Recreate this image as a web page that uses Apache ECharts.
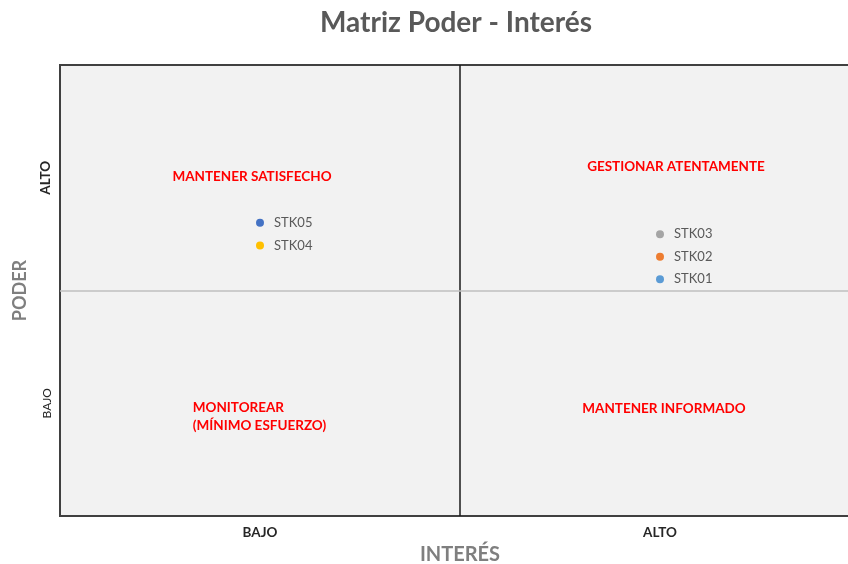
<!DOCTYPE html>
<html>
<head>
<meta charset="utf-8">
<script src="https://cdn.jsdelivr.net/npm/echarts@6/dist/echarts.min.js"></script>
<style>
  html, body { margin: 0; padding: 0; background: #fff; }
  #matriz { width: 848px; height: 564px; }
</style>
</head>
<body>
<div id="matriz"></div>
<script>
// datos de los interesados
var stakeholders = ["STK01", "STK02", "STK03", "STK04", "STK05"];
var interes = [7.5, 7.5, 7.5, 2.5, 2.5];
var poder = [5.25, 5.75, 6.25, 6.0, 6.5];
var stkColors = ["#5B9BD5", "#ED7D31", "#A5A5A5", "#FFC000", "#4472C4"];

// cuadrantes
var cuadrantes = ["MANTENER SATISFECHO", "GESTIONAR ATENTAMENTE", "MONITOREAR\n(MÍNIMO ESFUERZO)", "MANTENER INFORMADO"];
var cuadranteX = [2.4, 7.7, 1.66, 7.55];
var cuadranteY = [7.52, 7.74, 2.2, 2.39];

// etiquetas de los ejes
var nivelTicks = [2.5, 7.5];
var nivelLabels = ["BAJO", "ALTO"];

function nivel(value) {
  var i = nivelTicks.indexOf(value);
  return i >= 0 ? nivelLabels[i] : "";
}

var chart = echarts.init(document.getElementById("matriz"));
var font = "Lato, 'Open Sans', sans-serif";

var puntos = [];
for (var i = 0; i < stakeholders.length; i++) {
  puntos.push({
    name: stakeholders[i],
    value: [interes[i], poder[i]],
    itemStyle: { color: stkColors[i] }
  });
}

var textos = [];
for (var j = 0; j < cuadrantes.length; j++) {
  textos.push({
    name: cuadrantes[j],
    value: [cuadranteX[j], cuadranteY[j]],
    label: j == 2 ? { align: "left" } : {}
  });
}

var option = {
  animation: false,
  title: {
    text: "Matriz Poder - Interés",
    left: 451,
    top: 4,
    textAlign: "center",
    textStyle: { fontFamily: font, fontSize: 28, fontWeight: "bold", color: "#595959" }
  },
  grid: {
    show: true,
    left: 60,
    top: 65,
    width: 800,
    height: 451,
    outerBoundsMode: "none",
    containLabel: false,
    backgroundColor: "#F2F2F2",
    borderColor: "#404040",
    borderWidth: 2
  },
  xAxis: {
    type: "value",
    min: 0,
    max: 10,
    interval: 2.5,
    name: "INTERÉS",
    nameLocation: "middle",
    nameGap: 23,
    nameTextStyle: { fontFamily: font, fontSize: 20, fontWeight: "bold", color: "#7F7F7F" },
    axisLine: { show: false },
    axisTick: { show: false },
    splitLine: { show: false },
    axisLabel: {
      margin: 10,
      fontFamily: font,
      fontSize: 13.5,
      fontWeight: "bold",
      color: "#262626",
      formatter: nivel
    }
  },
  yAxis: {
    type: "value",
    min: 0,
    max: 10,
    interval: 2.5,
    name: "PODER",
    nameLocation: "middle",
    nameGap: 31,
    nameTextStyle: { fontFamily: font, fontSize: 18, fontWeight: "bold", color: "#7F7F7F" },
    axisLine: { show: false },
    axisTick: { show: false },
    splitLine: { show: false },
    axisLabel: {
      rotate: 90,
      margin: 7,
      fontFamily: font,
      fontSize: 12,
      color: "#262626",
      formatter: function (value) {
        var t = nivel(value);
        return t == "ALTO" ? "{b|" + t + "}" : t;
      },
      rich: { b: { fontFamily: font, fontSize: 13.5, fontWeight: "bold", color: "#262626" } }
    }
  },
  series: [
    {
      type: "scatter",
      symbolSize: 0,
      silent: true,
      data: textos,
      itemStyle: { opacity: 1 },
      label: {
        show: true,
        formatter: "{b}",
        position: "inside",
        fontFamily: font,
        fontSize: 13.5,
        fontWeight: "bold",
        color: "#FF0000",
        opacity: 1,
        lineHeight: 18
      },
      markLine: {
        silent: true,
        symbol: "none",
        label: { show: false },
        data: [
          { xAxis: 5, lineStyle: { color: "#1A1A1A", width: 1.5, type: "solid", opacity: 1 } },
          { yAxis: 5, lineStyle: { color: "#BFBFBF", width: 1.5, type: "solid", opacity: 1 } }
        ]
      }
    },
    {
      type: "scatter",
      symbolSize: 8,
      data: puntos,
      itemStyle: { opacity: 1 },
      label: {
        show: true,
        position: "right",
        distance: 10,
        formatter: "{b}",
        fontFamily: font,
        fontSize: 13,
        color: "#595959"
      }
    }
  ]
};

chart.setOption(option);
</script>
</body>
</html>
